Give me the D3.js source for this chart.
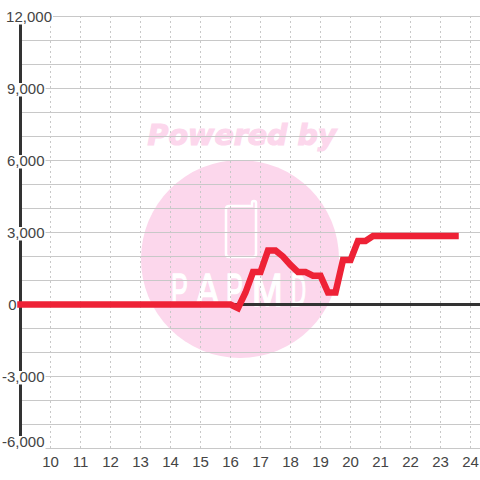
<!DOCTYPE html>
<html>
<head>
<meta charset="utf-8">
<script src="https://cdnjs.cloudflare.com/ajax/libs/d3/7.8.5/d3.min.js"></script>
<style>
html, body { margin: 0; padding: 0; background: #fff; }
svg { display: block; }
</style>
</head>
<body>
<svg id="chart" width="480" height="480"></svg>
<script>
// values
const hours = [9, 16, 16.25, 16.5, 16.75, 17, 17.25, 17.5, 17.75, 18, 18.25, 18.5, 18.75, 19, 19.25, 19.5, 19.75, 20, 20.25, 20.5, 20.75, 23.5];
const values = [0, 0, -150, 500, 1350, 1350, 2250, 2250, 2000, 1650, 1350, 1350, 1200, 1200, 500, 500, 1850, 1850, 2650, 2650, 2850, 2850];
const xTicks = [10, 11, 12, 13, 14, 15, 16, 17, 18, 19, 20, 21, 22, 23, 24];
const yMajor = [12000, 9000, 6000, 3000, 0, -3000, -6000];
const yGrid = d3.range(-6000, 12001, 1000);

const x = d3.scaleLinear().domain([9, 25]).range([20.5, 500.5]);
const y = d3.scaleLinear().domain([-6000, 12000]).range([448.5, 16.5]);

const svg = d3.select("#chart");
// plain hyphen as in the picture, d3 default is U+2212
const fmt = d3.formatLocale({decimal: ".", thousands: ",", grouping: [3], currency: ["$", ""], minus: "-"}).format(",");
const pink = "#fcd7ec";
const axisColor = "#333";
const labelColor = "#444";

// watermark
svg.append("circle").attr("cx", 240).attr("cy", 259).attr("r", 99).attr("fill", pink);
svg.append("text").attr("x", 242).attr("y", 145)
  .attr("text-anchor", "middle")
  .attr("font-family", "DejaVu Sans").attr("font-weight", "bold").attr("font-style", "italic")
  .attr("font-size", 28.5).attr("fill", pink).attr("stroke", pink).attr("stroke-width", 1.2)
  .text("Powered by");
svg.append("path")
  .attr("d", "M229 206 Q226 206 226 209 L226 254 Q226 257 229 257 L253 257 Q256 257 256 254 L256 203 Q256 201 254 201 Q252 201 252 203 L252 206 Z")
  .attr("fill", "none").attr("stroke", "#fff").attr("stroke-width", 2.5);
const logoLetters = [["P", 171, 0.55], ["A", 196, 0.75], ["P", 226, 0.55], ["M", 252, 0.8], ["D", 291, 0.45]];
svg.append("g").selectAll("text").data(logoLetters).enter().append("text")
  .attr("transform", d => `translate(${d[1]},306) scale(${d[2]},1)`)
  .attr("font-family", "Liberation Sans").attr("font-size", 46)
  .attr("fill", "#fff").attr("stroke", "#fff").attr("stroke-width", 1.6)
  .text(d => d[0]);

// grid
svg.append("g").selectAll("line").data(xTicks).enter().append("line")
  .attr("x1", d => x(d)).attr("x2", d => x(d))
  .attr("y1", 16).attr("y2", 448)
  .attr("stroke", "#c8c8c8").attr("stroke-dasharray", "2,3");
svg.append("g").selectAll("line").data(yGrid).enter().append("line")
  .attr("x1", x(9)).attr("x2", 480)
  .attr("y1", d => y(d)).attr("y2", d => y(d))
  .attr("stroke", "#c8c8c8");

// axes
svg.append("line").attr("x1", x(9)).attr("x2", x(9)).attr("y1", 16).attr("y2", 448)
  .attr("stroke", axisColor).attr("stroke-width", 3);
svg.append("line").attr("x1", x(9)).attr("x2", 480).attr("y1", y(0)).attr("y2", y(0))
  .attr("stroke", axisColor).attr("stroke-width", 3);

// y labels sit on a white box that cuts the axis and grid, bottom one is pushed up
const labelRight = d => d === 12000 ? 52 : d === 0 ? 16.5 : 44.5;
const labelBase = d => d === -6000 ? y(d) - 1.5 : y(d) + 5.5;
const yLabels = svg.append("g").selectAll("g").data(yMajor).enter().append("g");
yLabels.append("text")
  .attr("x", labelRight).attr("y", labelBase)
  .attr("text-anchor", "end")
  .attr("font-family", "Liberation Sans").attr("font-size", 15).attr("fill", labelColor)
  .text(d => fmt(d));
// box is measured from the text, the 0 label needs none
yLabels.filter(d => d !== 0).insert("rect", "text").each(function(d) {
  const w = d3.select(this.parentNode).select("text").node().getComputedTextLength();
  d3.select(this)
    .attr("x", labelRight(d) - w - 1)
    .attr("y", labelBase(d) - 11).attr("height", 13.5)
    .attr("width", w + 2)
    .attr("fill", "#fff");
});

// x labels
svg.append("g").selectAll("text").data(xTicks).enter().append("text")
  .attr("x", d => x(d)).attr("y", 466.5)
  .attr("text-anchor", "middle")
  .attr("font-family", "Liberation Sans").attr("font-size", 15).attr("fill", labelColor)
  .text(d => d);

// series
const line = d3.line().x((d, i) => x(hours[i])).y(d => y(d)).curve(d3.curveLinear);
svg.append("path").datum(values)
  .attr("d", line)
  .attr("fill", "none").attr("stroke", "#ee2236").attr("stroke-width", 6.5)
  .attr("stroke-linejoin", "miter").attr("stroke-linecap", "square");
</script>
</body>
</html>
